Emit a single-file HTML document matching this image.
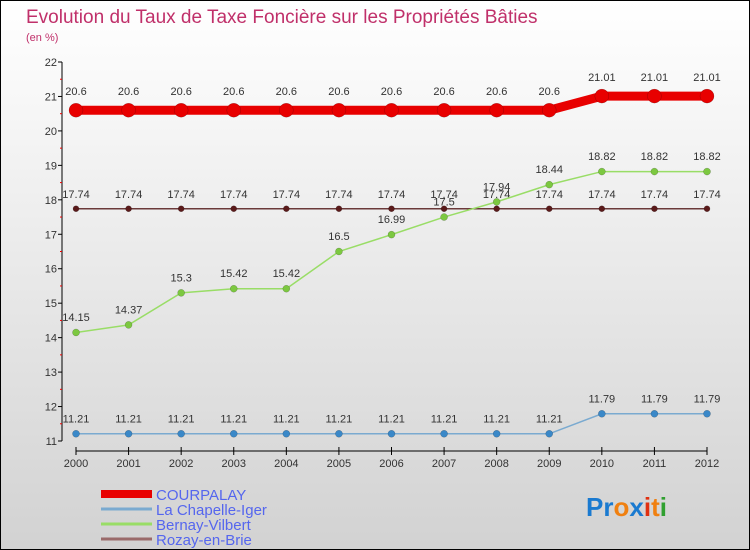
<!DOCTYPE html>
<html><head><meta charset="utf-8"><style>
body{margin:0}
#c{width:748px;height:548px;border:1px solid #000;position:relative;background:linear-gradient(#fff 0%,#f4f4f4 25%,#d2d2d2 100%);overflow:hidden;font-family:"Liberation Sans",sans-serif}
text{font-family:"Liberation Sans",sans-serif}
</style></head><body>
<div id="c">
<svg id="s" width="748" height="548">
<text x="25" y="22" font-size="19" fill="#c0306a">Evolution du Taux de Taxe Foncière sur les Propriétés Bâties</text>
<text x="25" y="40" font-size="11" fill="#c0306a">(en %)</text>
<g id="g"></g>
<text x="585" y="515" font-size="26" font-weight="bold"><tspan fill="#1a7ad0">Pr</tspan><tspan fill="#f08010">o</tspan><tspan fill="#1a7ad0">x</tspan><tspan fill="#e03010">i</tspan><tspan fill="#f08010">t</tspan><tspan fill="#30a030">i</tspan></text>
</svg></div>
<script>
const years=[2000,2001,2002,2003,2004,2005,2006,2007,2008,2009,2010,2011,2012];
const yTicks=[11,12,13,14,15,16,17,18,19,20,21,22];
const courpalay=[20.6,20.6,20.6,20.6,20.6,20.6,20.6,20.6,20.6,20.6,21.01,21.01,21.01];
const chapelle=[11.21,11.21,11.21,11.21,11.21,11.21,11.21,11.21,11.21,11.21,11.79,11.79,11.79];
const bernay=[14.15,14.37,15.3,15.42,15.42,16.5,16.99,17.5,17.94,18.44,18.82,18.82,18.82];
const rozay=[17.74,17.74,17.74,17.74,17.74,17.74,17.74,17.74,17.74,17.74,17.74,17.74,17.74];
const names=["COURPALAY","La Chapelle-Iger","Bernay-Vilbert","Rozay-en-Brie"];
const NS="http://www.w3.org/2000/svg",g=document.getElementById('g');
const X=i=>75+i*(706-75)/(years.length-1);
const Y=v=>440-(v-11)*(440-61)/11;
function el(t,a){const e=document.createElementNS(NS,t);for(const k in a)e.setAttribute(k,a[k]);g.appendChild(e);return e;}
let e=el('line',{x1:61,y1:Y(22),x2:61,y2:Y(11),stroke:'#000'});

e=el('line',{x1:75,y1:450,x2:706,y2:450,stroke:'#000'});

yTicks.forEach((t,i)=>{
 let l=el('line',{x1:57,x2:61,y1:Y(t),y2:Y(t),stroke:'#000'});
 
 if(i<yTicks.length-1){let m=el('line',{x1:59,x2:61,y1:Y(t+0.5),y2:Y(t+0.5),stroke:'#e00'});
 }
 let tx=el('text',{x:56,y:Y(t)+4,'font-size':11,'text-anchor':'end',fill:'#333'});tx.textContent=t;
 
});
years.forEach((y,i)=>{
 let l=el('line',{x1:X(i),x2:X(i),y1:446,y2:454,stroke:'#000'});
 
 let tx=el('text',{x:X(i),y:466,'font-size':11,'text-anchor':'middle',fill:'#333'});tx.textContent=y;
 
});
function series(vals,line,dot,w,r,nm){
 let p=el('polyline',{points:vals.map((v,i)=>X(i)+','+Y(v)).join(' '),fill:'none',stroke:line,'stroke-width':w});
 
 vals.forEach((v,i)=>{
  let c=el('circle',{cx:X(i),cy:Y(v),r:r,fill:dot,stroke:'rgba(0,0,0,0.3)','stroke-width':0.5});
  
  let t=el('text',{x:X(i),y:Y(v)-8-r,'font-size':11,'text-anchor':'middle',fill:'#333'});t.textContent=v;
  
 });
}
series(rozay,'#6b3a3a','#5a1a1a',1.5,3,'rozay');
series(bernay,'#99dd66','#7cc840',1.5,3.5,'bernay');
series(chapelle,'#7aaad0','#3a88c8',1.5,3.5,'chapelle');
series(courpalay,'#e80000','#e80000',9,7,'courpalay');
const lc=['#e80000','#7aaad0','#99dd66','#9a6a6a'],lw=[8,3,3,3];
names.forEach((n,i)=>{
 let y=493+i*15;
 let l=el('line',{x1:100,x2:151,y1:y,y2:y,stroke:lc[i],'stroke-width':lw[i]});
 
 let t=el('text',{x:155,y:y+6,'font-size':15,fill:'#5566ee'});t.textContent=n;
 
});
</script>
</body></html>
